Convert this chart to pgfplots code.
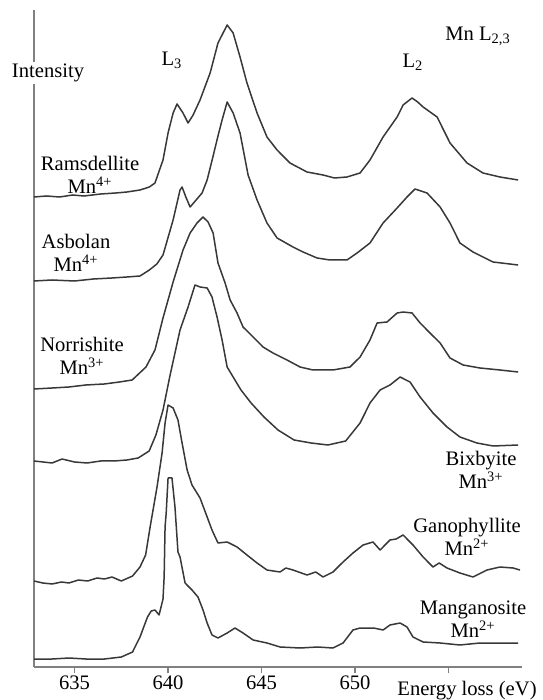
\documentclass[border=0pt]{standalone}
\usepackage{fontspec}
\setmainfont{Liberation Serif}
\usepackage{pgfplots}
\pgfplotsset{compat=1.18}
\tikzset{
  spec/.style={line width=0.75pt, color=black!78, mark=none, line join=round},
  lab/.style={font=\fontsize{10.3}{11.5}\selectfont, align=center, inner sep=0pt},
}
\begin{document}
\begin{tikzpicture}
\begin{axis}[
  scale only axis, width=244pt, height=328.5pt,
  xmin=632.83, xmax=658.93, ymin=0, ymax=657,
  axis lines*=left, axis line style={line width=0.8pt, color=black!50},
  ytick=\empty,
  xtick={635,640,645,650,655}, xticklabels={635,640,645,650,{}},
  tick align=outside, major tick length=3pt, tick style={black!50, line width=0.6pt},
  ticklabel style={font=\fontsize{10.3}{12}\selectfont},
  xticklabel style={yshift=2.2pt},
  /pgf/number format/assume math mode=true,
  clip=false,
]
% Ramsdellite
\addplot[spec] coordinates {
(632.83,470) (633.5,471) (634.2,470) (634.9,472) (635.5,471) (636.4,473) (637.2,474)
(637.8,475) (638.5,477) (639.0,480) (639.30,484) (639.73,507) (640.00,534) (640.27,554)
(640.48,563) (640.80,554) (641.07,544) (641.34,552) (641.71,567) (642.25,594) (642.67,624)
(643.16,642) (643.48,634) (643.85,610) (644.22,584) (644.76,554) (645.29,530) (645.83,517)
(646.52,504) (647.43,495) (648.29,492) (648.9,489) (649.57,490) (650.27,494) (650.80,507)
(651.50,530) (652.25,550) (652.57,562) (653.05,569) (653.35,565) (653.64,560) (654.39,550)
(655.08,524) (655.99,504) (656.84,494) (657.75,490) (658.72,487)};
% Asbolan
\addplot[spec] coordinates {
(632.83,386) (633.8,387) (635.0,386) (636.0,388) (637.0,389) (637.8,390) (638.5,391)
(639.0,397) (639.4,403) (639.73,412) (640.27,447) (640.64,477) (640.75,480) (640.95,470)
(641.18,460) (641.5,467) (641.82,474) (642.09,487) (642.41,511) (642.67,531) (642.89,547)
(643.16,565) (643.48,554) (643.85,534) (644.28,492) (644.76,467) (645.29,444) (645.83,429)
(646.68,420) (647.22,415) (647.97,409) (648.66,407) (649.57,407) (650.11,414) (650.80,424)
(651.50,444) (652.25,459) (652.78,470) (653.21,478) (653.85,474) (654.55,460) (655.08,444)
(655.61,424) (656.31,415) (657.38,405) (658.72,402)};
% Norrishite
\addplot[spec] coordinates {
(632.83,278) (633.8,279) (634.70,280) (635.6,282) (636.58,283) (637.4,285) (638.08,287)
(638.82,300) (639.30,317) (639.73,349) (640.27,385) (640.80,417) (641.18,434) (641.55,444)
(641.87,450) (642.14,445) (642.41,434) (642.67,404) (643.05,384) (643.32,367) (643.69,354)
(644.01,340) (644.55,330) (645.08,320) (645.61,314) (646.36,307) (647.06,300) (647.75,297)
(648.82,297) (649.73,300) (650.27,310) (650.80,327) (651.18,344) (651.71,345) (652.25,354)
(652.57,355) (653.05,354) (653.48,344) (654.01,334) (654.55,324) (655.08,309) (655.78,302)
(656.68,299) (657.75,297) (658.72,295)};
% Bixbyite
\addplot[spec] coordinates {
(632.83,206) (633.80,204) (634.33,208) (635.0,205) (635.67,204) (636.4,206) (637.11,206)
(637.8,207) (638.40,209) (638.99,216) (639.35,232) (639.73,257) (640.11,292) (640.64,337)
(641.07,360) (641.44,382) (641.71,380) (642.09,379) (642.35,370) (642.62,350) (642.89,327)
(643.16,300) (643.48,290) (643.90,277) (644.44,264) (645.13,250) (645.88,237) (646.74,227)
(647.65,224) (648.55,222) (649.5,226) (650.27,244) (650.80,264) (651.34,277) (651.87,282)
(652.41,290) (652.94,285) (653.48,270) (654.17,254) (654.92,240) (655.61,230) (656.52,224)
(657.38,221) (658.72,222)};
% Ganophyllite
\addplot[spec] coordinates {
(632.83,86) (633.3,84) (633.8,83) (634.3,85) (634.7,84) (635.2,87) (635.7,86) (636.2,89)
(636.6,88) (637.0,90) (637.5,86) (638.1,91) (638.5,100) (638.8,112) (639.04,140) (639.41,180)
(639.68,214) (639.84,244) (640.00,262) (640.27,259) (640.53,247) (640.75,224) (641.02,197)
(641.28,182) (641.71,169) (642.09,150) (642.35,137) (642.67,124) (643.16,125) (643.69,120)
(644.22,112) (644.76,104) (645.29,97) (645.99,95) (646.3,99) (646.68,97) (647.43,92)
(647.9,95) (648.29,90) (648.82,95) (649.36,105) (649.89,114) (650.43,122) (650.96,125)
(651.34,117) (651.87,127) (652.2,128) (652.57,132) (653.10,122) (653.64,110) (654.17,100)
(654.5,104) (654.92,99) (655.61,94) (656.31,90) (657.06,97) (657.75,100) (658.45,99) (658.82,97)};
% Manganosite
\addplot[spec] coordinates {
(632.83,8) (633.8,8) (634.7,9) (635.6,8) (636.6,8) (637.5,10) (638.1,15) (638.5,30)
(638.9,50) (639.1,56) (639.3,57) (639.52,52) (639.73,68) (639.79,90) (639.84,140) (639.90,154)
(640.00,189) (640.21,189) (640.37,160) (640.53,115) (640.64,110) (640.91,84) (641.28,77)
(641.60,70) (641.87,57) (642.09,44) (642.35,32) (642.67,29) (643.16,34) (643.58,39)
(644.01,34) (644.55,27) (645.29,24) (645.99,20) (647.06,19) (648.0,20) (648.82,19)
(649.36,24) (649.89,37) (650.27,39) (651.0,39) (651.5,37) (651.87,42) (652.41,44)
(652.78,40) (653.10,30) (653.64,25) (654.55,24) (655.61,22) (656.68,24) (657.75,24) (658.72,24)};
% labels
\node[lab, fill=white, inner sep=1pt] at (axis cs:633.58,594) {Intensity};
\node[lab] at (axis cs:640.21,607) {L\textsubscript{3}};
\node[lab] at (axis cs:653.10,605) {L\textsubscript{2}};
\node[lab] at (axis cs:656.58,631) {Mn L\textsubscript{2,3}};
\node[lab] at (axis cs:635.83,492) {Ramsdellite\\Mn\textsuperscript{4+}};
\node[lab] at (axis cs:635.08,414) {Asbolan\\Mn\textsuperscript{4+}};
\node[lab] at (axis cs:635.40,311) {Norrishite\\Mn\textsuperscript{3+}};
\node[lab] at (axis cs:656.74,197) {Bixbyite\\Mn\textsuperscript{3+}};
\node[lab] at (axis cs:655.99,130) {Ganophyllite\\Mn\textsuperscript{2+}};
\node[lab] at (axis cs:656.31,48) {Manganosite\\Mn\textsuperscript{2+}};
\node[lab] at (axis cs:655.99,-23.5) {Energy loss (eV)};
\end{axis}
\pgfresetboundingbox
\path (-17pt,-16.5pt) rectangle (254pt,333.5pt);
\end{tikzpicture}
\end{document}
